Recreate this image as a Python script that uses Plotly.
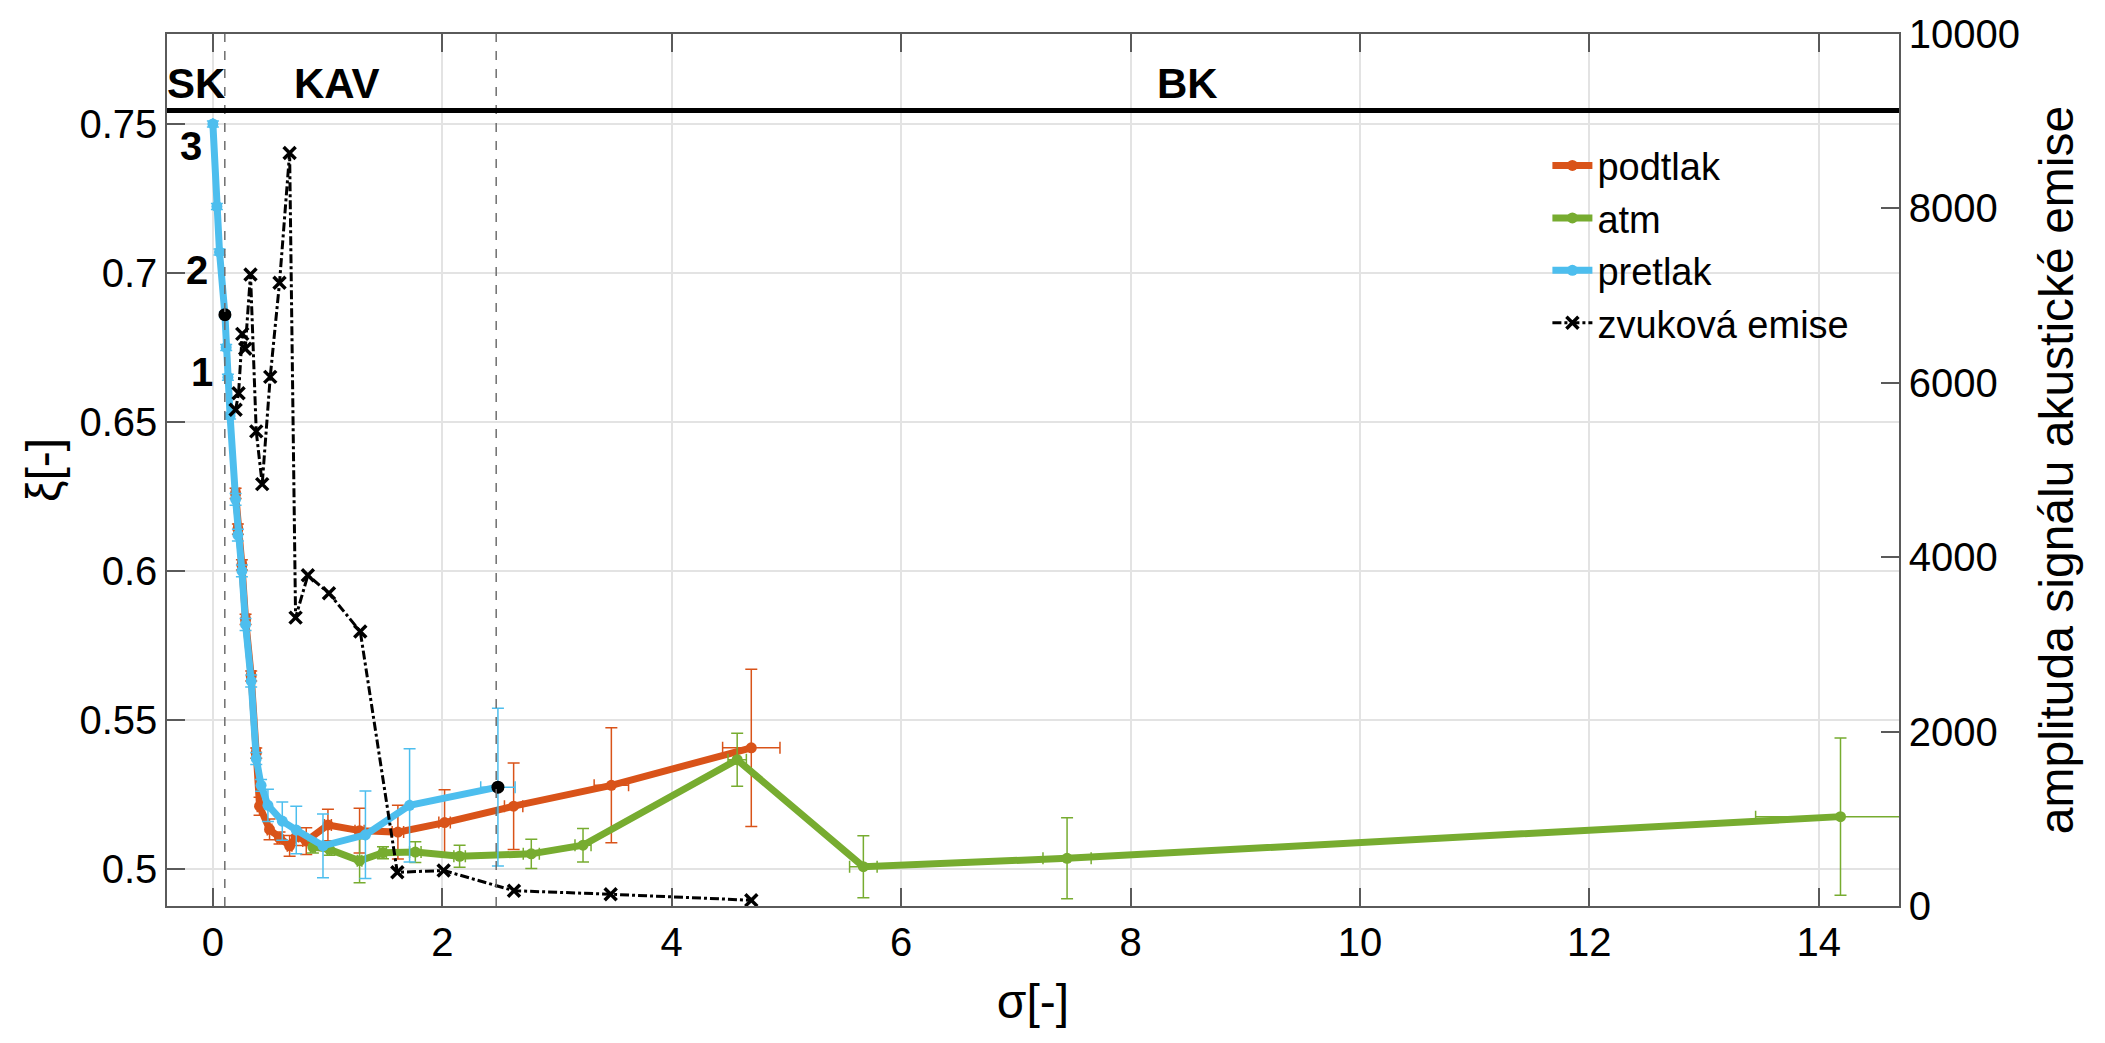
import plotly.graph_objects as go

# ---------------- data ----------------
# podtlak (orange)
sig_podtlak = [0.198, 0.218, 0.253, 0.285, 0.334, 0.378, 0.407, 0.494, 0.581, 0.669, 0.727, 0.814,
               1.003, 1.279, 1.613, 2.02, 2.622, 3.474, 4.694]
xi_podtlak = [0.626, 0.614, 0.602, 0.5837, 0.5647, 0.5388, 0.521, 0.5132, 0.5103, 0.5077, 0.5108, 0.5093,
              0.5147, 0.5128, 0.5123, 0.5155, 0.521, 0.528, 0.5406]
xi_err_podtlak = [0.0017, 0.0017, 0.0017, 0.0017, 0.0017, 0.0017, 0.003, 0.0035, 0.002, 0.0035, 0.003, 0.0045,
                  0.0053, 0.0075, 0.009, 0.011, 0.0145, 0.0193, 0.0264]
sig_err_podtlak = [0.035, 0.035, 0.035, 0.035, 0.035, 0.035, 0.02, 0.02, 0.02, 0.02, 0.02, 0.03,
                   0.03, 0.04, 0.05, 0.05, 0.08, 0.15, 0.25]

# atm (green)
sig_atm = [0.872, 1.017, 1.279, 1.483, 1.765, 2.151, 2.776, 3.227, 4.571, 5.671, 7.447, 14.19]
xi_atm = [0.5073, 0.5065, 0.5027, 0.5054, 0.5056, 0.5042, 0.505, 0.5079, 0.5366, 0.5007, 0.5035, 0.5175]
xi_err_atm = [0.002, 0.002, 0.0074, 0.002, 0.0035, 0.0037, 0.0049, 0.0056, 0.0089, 0.0104, 0.0136, 0.0264]
sig_err_atm = [0.02, 0.02, 0.02, 0.03, 0.05, 0.05, 0.07, 0.07, 0.08, 0.12, 0.21, 0.74]

# pretlak (blue)
sig_pretlak = [0.0, 0.035, 0.058, 0.105, 0.116, 0.131, 0.15, 0.198, 0.218, 0.253, 0.285, 0.334, 0.378,
               0.42, 0.48, 0.605, 0.727, 0.96, 1.33, 1.715, 2.485]
xi_pretlak = [0.750, 0.7223, 0.707, 0.686, 0.675, 0.665, 0.652, 0.624, 0.612, 0.600, 0.582, 0.563, 0.537,
              0.528, 0.5213, 0.516, 0.513, 0.5077, 0.5114, 0.5213, 0.5274]
xi_err_pretlak = [0.001, 0.001, 0.001, 0.001, 0.001, 0.001, 0.001, 0.002, 0.002, 0.002, 0.002, 0.002, 0.002,
                  0.002, 0.0054, 0.0064, 0.008, 0.0107, 0.0147, 0.019, 0.0265]
sig_err_pretlak = [0.0, 0.0, 0.0, 0.0, 0.0, 0.0, 0.0, 0.0, 0.0, 0.0, 0.0, 0.0, 0.0,
                   0.0, 0.0, 0.0, 0.0, 0.0, 0.0, 0.0, 0.15]

# highlighted points (black dots)
sig_marked = [0.105, 2.485]
xi_marked = [0.686, 0.5274]

# zvuková emise (right axis)
sig_zvuk = [0.198, 0.224, 0.256, 0.282, 0.328, 0.378, 0.43, 0.5, 0.581, 0.669, 0.721, 0.828,
            1.012, 1.285, 1.608, 2.012, 2.625, 3.468, 4.694]
amp_zvuk = [5690, 5879, 6561, 6390, 7243, 5443, 4838, 6068, 7148, 8636, 3307, 3793,
            3587, 3148, 386, 407, 175, 135, 66]

# region boundaries and labels
sig_boundaries = [0.104, 2.47]
xi_regime_line = 0.7545
regime_labels = ["SK", "KAV", "BK"]
point_labels = ["3", "2", "1"]

x_ticks = [0, 2, 4, 6, 8, 10, 12, 14]
y_ticks = [0.5, 0.55, 0.6, 0.65, 0.7, 0.75]
y_ticktext = ["0.5", "0.55", "0.6", "0.65", "0.7", "0.75"]
y2_ticks = [0, 2000, 4000, 6000, 8000, 10000]
y2_ticktext = ["0", "2000", "4000", "6000", "8000", "10000"]

# ---------------- figure ----------------
FONT = "Liberation Sans, Arial, Helvetica, sans-serif"
C_OR = "#D95319"
C_GR = "#77AC30"
C_BL = "#4DBEEE"

fig = go.Figure()


def series(x, y, ex, ey, color, name):
    return go.Scatter(
        x=x, y=y, name=name, mode="lines+markers",
        line=dict(color=color, width=7),
        marker=dict(color=color, size=11),
        error_y=dict(type="data", array=ey, visible=True, color=color, thickness=1.5, width=6),
        error_x=dict(type="data", array=ex, visible=True, color=color, thickness=1.5, width=6),
        yaxis="y", xaxis="x",
    )


fig.add_trace(series(sig_podtlak, xi_podtlak, sig_err_podtlak, xi_err_podtlak, C_OR, "podtlak"))
fig.add_trace(series(sig_atm, xi_atm, sig_err_atm, xi_err_atm, C_GR, "atm"))
fig.add_trace(series(sig_pretlak, xi_pretlak, sig_err_pretlak, xi_err_pretlak, C_BL, "pretlak"))
fig.add_trace(go.Scatter(x=sig_marked, y=xi_marked, mode="markers", showlegend=False,
                         marker=dict(color="black", size=13), yaxis="y"))
fig.add_trace(go.Scatter(
    x=sig_zvuk, y=amp_zvuk, name="zvuková emise", mode="lines+markers", yaxis="y2",
    line=dict(color="black", width=3, dash="dashdot"),
    marker=dict(symbol="x-thin", size=12, color="black", line=dict(color="black", width=3.5)),
))

shapes = []
for b in sig_boundaries:
    shapes.append(dict(type="line", xref="x", yref="paper", x0=b, x1=b, y0=0, y1=1,
                       line=dict(color="#6e6e6e", width=1.5, dash="dash"), layer="above"))
shapes.append(dict(type="line", xref="paper", yref="y", x0=0, x1=1, y0=xi_regime_line, y1=xi_regime_line,
                   line=dict(color="black", width=5), layer="above"))

annotations = []
for txt, xx in zip(regime_labels, [-0.15, 1.083, 8.5]):
    annotations.append(dict(text="<b>%s</b>" % txt, x=xx, y=xi_regime_line, xref="x", yref="y",
                            yanchor="bottom", xanchor="center", showarrow=False, yshift=2,
                            font=dict(family=FONT, size=42, color="black")))
for txt, xx, yy in zip(point_labels, [-0.195, -0.138, -0.099], [0.7426, 0.701, 0.6667]):
    annotations.append(dict(text="<b>%s</b>" % txt, x=xx, y=yy, xref="x", yref="y",
                            xanchor="center", yanchor="middle", showarrow=False,
                            font=dict(family=FONT, size=40, color="black")))

axis_common = dict(
    showline=True, linecolor="#5a5a5a", linewidth=1.5,
    ticks="inside", ticklen=18, tickcolor="#5a5a5a", tickwidth=1.5,
    tickfont=dict(family=FONT, size=40, color="black"),
    zeroline=False,
)

fig.update_layout(
    width=2105, height=1043,
    margin=dict(l=167, r=206, t=26, b=137),
    paper_bgcolor="white", plot_bgcolor="white",
    font=dict(family=FONT, color="black"),
    xaxis=dict(range=[-0.4, 14.7], tickvals=x_ticks, showgrid=True, gridcolor="#e3e3e3", gridwidth=1.5,
               mirror="ticks",
               title=dict(text="σ[-]", font=dict(family=FONT, size=48, color="black"), standoff=22),
               **axis_common),
    yaxis=dict(range=[0.4875, 0.7802], tickvals=y_ticks, ticktext=y_ticktext, showgrid=True,
               gridcolor="#e3e3e3", gridwidth=1.5,
               title=dict(text="ξ[-]", font=dict(family=FONT, size=48, color="black"), standoff=4),
               **axis_common),
    yaxis2=dict(range=[0, 10000], tickvals=y2_ticks, ticktext=y2_ticktext, overlaying="y", side="right",
                showgrid=False,
                title=dict(text="amplituda signálu akustické emise",
                           font=dict(family=FONT, size=48, color="black"), standoff=20),
                **axis_common),
    legend=dict(x=0.797, y=0.885, xanchor="left", yanchor="top", bgcolor="rgba(0,0,0,0)",
                font=dict(family=FONT, size=38, color="black"), tracegroupgap=0, itemwidth=40),
    shapes=shapes,
    annotations=annotations,
    showlegend=True,
)

fig.write_html("out.html")
